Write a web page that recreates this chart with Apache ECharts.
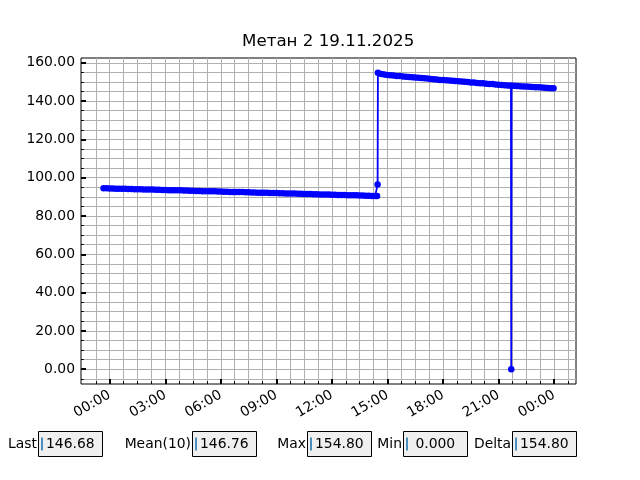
<!DOCTYPE html>
<html><head><meta charset="utf-8">
<script src="https://cdn.jsdelivr.net/npm/echarts@6/dist/echarts.min.js"></script>
<style>html,body{margin:0;padding:0;background:#fff}#c{width:640px;height:480px}</style>
</head><body><div id="c"></div><script>
const chartTitle = 'Метан 2 19.11.2025';
// minutes relative to 19.11.2025 00:00
const sampleMinutes = [
  -20,-10,0,10,20,30,40,50,60,70,80,90,100,110,120,130,140,150,160,170,180,190,200,210,220,230,240,250,260,270,
  280,290,300,310,320,330,340,350,360,370,380,390,400,410,420,430,440,450,460,470,480,490,500,510,520,530,540,550,560,570,
  580,590,600,610,620,630,640,650,660,670,680,690,700,710,720,730,740,750,760,770,780,790,800,810,820,830,840,850,860,866,868,
  869,880,890,900,910,920,930,940,950,960,970,980,990,1000,1010,1020,1030,1040,1050,1060,1070,1080,1090,1100,1110,1120,1130,1140,1150,1160,
  1170,1180,1190,1200,1210,1220,1230,1240,1250,1260,1270,1280,1290,1300,1301,1302,1310,1320,1330,1340,1350,1360,1370,1380,1390,1400,1410,1420,1430,1438
];
const methaneValues = [
  94.5,94.5,94.4,94.4,94.3,94.3,94.2,94.2,94.1,94.1,
  94.0,94.0,94.0,93.9,93.9,93.8,93.8,93.7,93.7,93.6,
  93.6,93.5,93.5,93.5,93.4,93.4,93.3,93.3,93.2,93.2,
  93.1,93.1,93.0,93.0,93.0,92.9,92.9,92.8,92.8,92.7,
  92.7,92.6,92.6,92.5,92.5,92.5,92.4,92.4,92.3,92.3,
  92.2,92.2,92.1,92.1,92.0,92.0,92.0,91.9,91.9,91.8,
  91.8,91.7,91.7,91.6,91.6,91.5,91.5,91.5,91.4,91.4,
  91.3,91.3,91.2,91.2,91.1,91.1,91.0,91.0,91.0,90.9,
  90.9,90.8,90.8,90.7,90.7,90.6,90.6,90.5,90.5,90.5,96.4,
  154.8,154.2,153.9,153.7,153.5,153.4,153.2,153.1,152.9,152.8,
  152.6,152.5,152.4,152.2,152.1,151.9,151.8,151.6,151.5,151.3,
  151.1,151.0,150.9,150.8,150.6,150.5,150.4,150.2,150.1,150.0,
  149.8,149.7,149.5,149.4,149.3,149.1,149.0,148.9,148.7,148.6,
  148.5,148.3,148.2,148.1,0.0,148.1,
  148.0,147.9,147.8,147.7,147.6,147.5,147.4,147.3,147.2,147.1,147.0,146.9,146.8,146.68
];
const xTickHours = [0,3,6,9,12,15,18,21,24];
const xMinorHours = [-0.75,0,0.75,1.5,2.25,3,3.75,4.5,5.25,6,6.75,7.5,8.25,9,9.75,10.5,11.25,12,12.75,13.5,14.25,15,15.75,16.5,17.25,18,18.75,19.5,20.25,21,21.75,22.5,23.25,24,24.75];
const yTickValues = [0,20,40,60,80,100,120,140,160];
const yMinorValues = [-5,0,5,10,15,20,25,30,35,40,45,50,55,60,65,70,75,80,85,90,95,100,105,110,115,120,125,130,135,140,145,150,155,160];
const statLabels = ['Last','Mean(10)','Max','Min','Delta'];
const statValues = ['146.68','146.76','154.80',' 0.000','154.80'];

const FONT = 'DejaVu Sans';
const GRID_COLOR = '#b0b0b0';
const seriesData = sampleMinutes.map((m, i) => [m / 60, methaneValues[i]]);
const fmtHour = h => String(((Math.round(h) % 24) + 24) % 24).padStart(2, '0') + ':00';

const xRange = {min: -1.55, max: 25.18};
const yRange = {min: -7.74, max: 162.54};

const boxLefts = [38.5, 192.5, 307.5, 403.5, 512.5];
const graphic = [];
statLabels.forEach((lab, i) => {
  const bx = boxLefts[i];
  graphic.push({type:'rect', shape:{x:bx, y:431.5, width:64, height:25}, style:{fill:'#f0f0f0', stroke:'#000', lineWidth:1}, z:10});
  graphic.push({type:'line', shape:{x1:bx+3.5, y1:437.5, x2:bx+3.5, y2:450.5}, style:{stroke:'#1f77b4', lineWidth:1.6}, z:11});
  graphic.push({type:'text', x:bx-1.5, y:444.5, style:{text:lab, font:'13.9px "DejaVu Sans"', fill:'#000', align:'right', verticalAlign:'middle'}, z:11});
  graphic.push({type:'text', x:bx+7.5, y:444.5, style:{text:statValues[i], font:'13.9px "DejaVu Sans"', fill:'#000', align:'left', verticalAlign:'middle'}, z:11});
});

const chart = echarts.init(document.getElementById('c'), null, {renderer:'canvas'});
chart.setOption({
  animation: false,
  backgroundColor: '#fff',
  title: {text: chartTitle, left: 242, top: 33, padding: 0,
    textStyle: {fontFamily: FONT, fontSize: 16.7, fontWeight: 'normal', color: '#000'}},
  grid: {left: 81, top: 58, width: 495, height: 326, show: true, borderColor: '#000', borderWidth: 1, backgroundColor: 'transparent'},
  xAxis: [
    {type:'value', min:xRange.min, max:xRange.max,
     axisLine:{show:false, onZero:false},
     axisTick:{show:true, inside:true, length:5, customValues:xTickHours, lineStyle:{color:'#000', width:2}},
     axisLabel:{show:true, customValues:xTickHours, formatter:fmtHour, rotate:30, margin:10, fontFamily:FONT, fontSize:13.9, color:'#000'},
     splitLine:{show:false}},
    {type:'value', min:xRange.min, max:xRange.max, position:'bottom',
     axisLine:{show:false, onZero:false},
     axisTick:{show:true, inside:true, length:2.8, customValues:xMinorHours, lineStyle:{color:'#000', width:1}},
     axisLabel:{show:false},
     splitLine:{show:true, lineStyle:{color:GRID_COLOR, width:1}}}
  ],
  yAxis: [
    {type:'value', min:yRange.min, max:yRange.max,
     axisLine:{show:false, onZero:false},
     axisTick:{show:true, inside:true, length:5, customValues:yTickValues, lineStyle:{color:'#000', width:2}},
     axisLabel:{show:true, customValues:yTickValues, formatter:v => v.toFixed(2), margin:6, fontFamily:FONT, fontSize:13.9, color:'#000'},
     splitLine:{show:false}},
    {type:'value', min:yRange.min, max:yRange.max, position:'left',
     axisLine:{show:false, onZero:false},
     axisTick:{show:true, inside:true, length:2.8, customValues:yMinorValues, lineStyle:{color:'#000', width:1}},
     axisLabel:{show:false},
     splitLine:{show:true, lineStyle:{color:GRID_COLOR, width:1}}}
  ],
  series: [{
    type:'line', data:seriesData, xAxisIndex:0, yAxisIndex:0,
    symbol:'circle', symbolSize:6.5, showSymbol:true, showAllSymbol:true,
    lineStyle:{color:'#0000ff', width:1.8}, itemStyle:{color:'#0000ff'},
    emphasis:{disabled:true}, z:5
  }],
  graphic: graphic
});
</script></body></html>
